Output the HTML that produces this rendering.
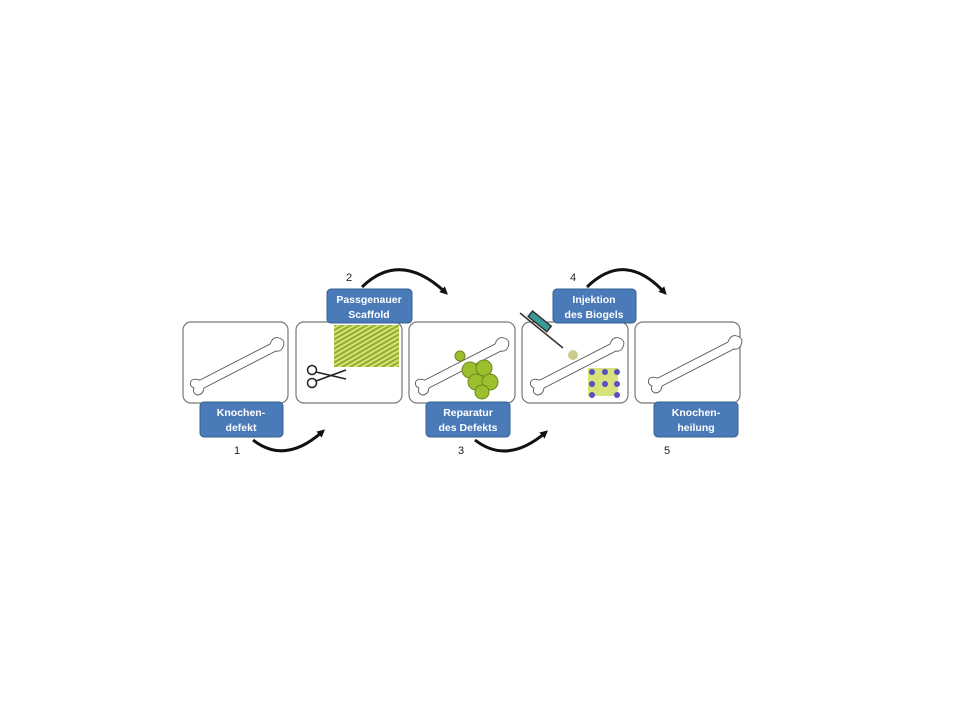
<!DOCTYPE html>
<html><head><style>
body{margin:0;width:960px;height:720px;background:#fff;overflow:hidden}
svg{position:absolute;left:0;top:0}
text{font-family:"Liberation Sans",sans-serif}
</style></head><body>
<svg width="960" height="720" viewBox="0 0 960 720">
<defs>
<marker id="ah" markerWidth="8" markerHeight="8" refX="4" refY="4" orient="auto" markerUnits="userSpaceOnUse"><path d="M0,0 L8,4 L0,8 z" fill="#111"/></marker>
<pattern id="mesh" width="4" height="4" patternUnits="userSpaceOnUse" patternTransform="rotate(-30)"><rect width="4" height="4" fill="#d8e27a"/><rect width="4" height="2" fill="#8fae2a"/></pattern>
<g id="bone"><path d="M0,0 L70,-36 q3,-8 9,-6 q7,2 4,9 q-2,5 -7,4 L4,8 q-1,7 -7,7 q-5,-2 -3,-7 q-5,-2 -3,-7 q3,-3 8,-1z" fill="#fff" stroke="#555" stroke-width="0.9"/></g>
</defs>
<g fill="#fff" stroke="#777" stroke-width="1.2">
<rect x="183" y="322" width="105" height="81" rx="8"/>
<rect x="296" y="322" width="106" height="81" rx="8"/>
<rect x="409" y="322" width="106" height="81" rx="8"/>
<rect x="522" y="322" width="106" height="81" rx="8"/>
<rect x="635" y="322" width="105" height="81" rx="8"/>
</g>
<use href="#bone" x="200" y="380"/>
<use href="#bone" x="425" y="380"/>
<use href="#bone" x="540" y="380"/>
<use href="#bone" x="658" y="378"/>
<rect x="334" y="325" width="65" height="42" fill="url(#mesh)"/>
<g stroke="#222" stroke-width="1.5" fill="none"><circle cx="312" cy="370" r="4.5"/><circle cx="312" cy="383" r="4.5"/><path d="M316,372 L346,379 M316,381 L346,370"/></g>
<g fill="#9cbf2e" stroke="#6a8a1a"><circle cx="470" cy="370" r="8"/><circle cx="484" cy="368" r="8"/><circle cx="476" cy="382" r="8"/><circle cx="490" cy="382" r="8"/><circle cx="482" cy="392" r="7"/><circle cx="460" cy="356" r="5"/></g>
<g><rect x="588" y="368" width="30" height="28" fill="#d8e27a"/><g fill="#5a4fc0"><circle cx="592" cy="372" r="3"/><circle cx="605" cy="372" r="3"/><circle cx="617" cy="372" r="3"/><circle cx="592" cy="384" r="3"/><circle cx="605" cy="384" r="3"/><circle cx="617" cy="384" r="3"/><circle cx="592" cy="395" r="3"/><circle cx="617" cy="395" r="3"/></g></g>
<g stroke="#333" stroke-width="1.5"><line x1="520" y1="313" x2="563" y2="348"/><rect x="528" y="318" width="24" height="7" fill="#3a9a9a" transform="rotate(39 540 321)"/></g>
<circle cx="573" cy="355" r="5" fill="#c9cf8a"/>
<g fill="#4a7ab8" stroke="#34608f" stroke-width="1">
<rect x="200" y="402" width="83" height="35" rx="4"/>
<rect x="327" y="289" width="85" height="34" rx="4"/>
<rect x="426" y="402" width="84" height="35" rx="4"/>
<rect x="553" y="289" width="83" height="34" rx="4"/>
<rect x="654" y="402" width="84" height="35" rx="4"/>
</g>
<g fill="#fff" font-size="10.5" font-weight="bold" text-anchor="middle">
<text x="241" y="416">Knochen-</text><text x="241" y="431">defekt</text>
<text x="369" y="303">Passgenauer</text><text x="369" y="318">Scaffold</text>
<text x="468" y="416">Reparatur</text><text x="468" y="431">des Defekts</text>
<text x="594" y="303">Injektion</text><text x="594" y="318">des Biogels</text>
<text x="696" y="416">Knochen-</text><text x="696" y="431">heilung</text>
</g>
<g font-size="11" fill="#222" text-anchor="middle">
<text x="237" y="454">1</text><text x="349" y="281">2</text><text x="461" y="454">3</text><text x="573" y="281">4</text><text x="667" y="454">5</text>
</g>
<g fill="none" stroke="#111" stroke-width="3" marker-end="url(#ah)">
<path d="M253,440 Q285,465 322,432"/>
<path d="M362,287 Q400,250 445,292"/>
<path d="M475,440 Q507,465 545,433"/>
<path d="M587,287 Q625,250 664,292"/>
</g>
</svg>
</body></html>
